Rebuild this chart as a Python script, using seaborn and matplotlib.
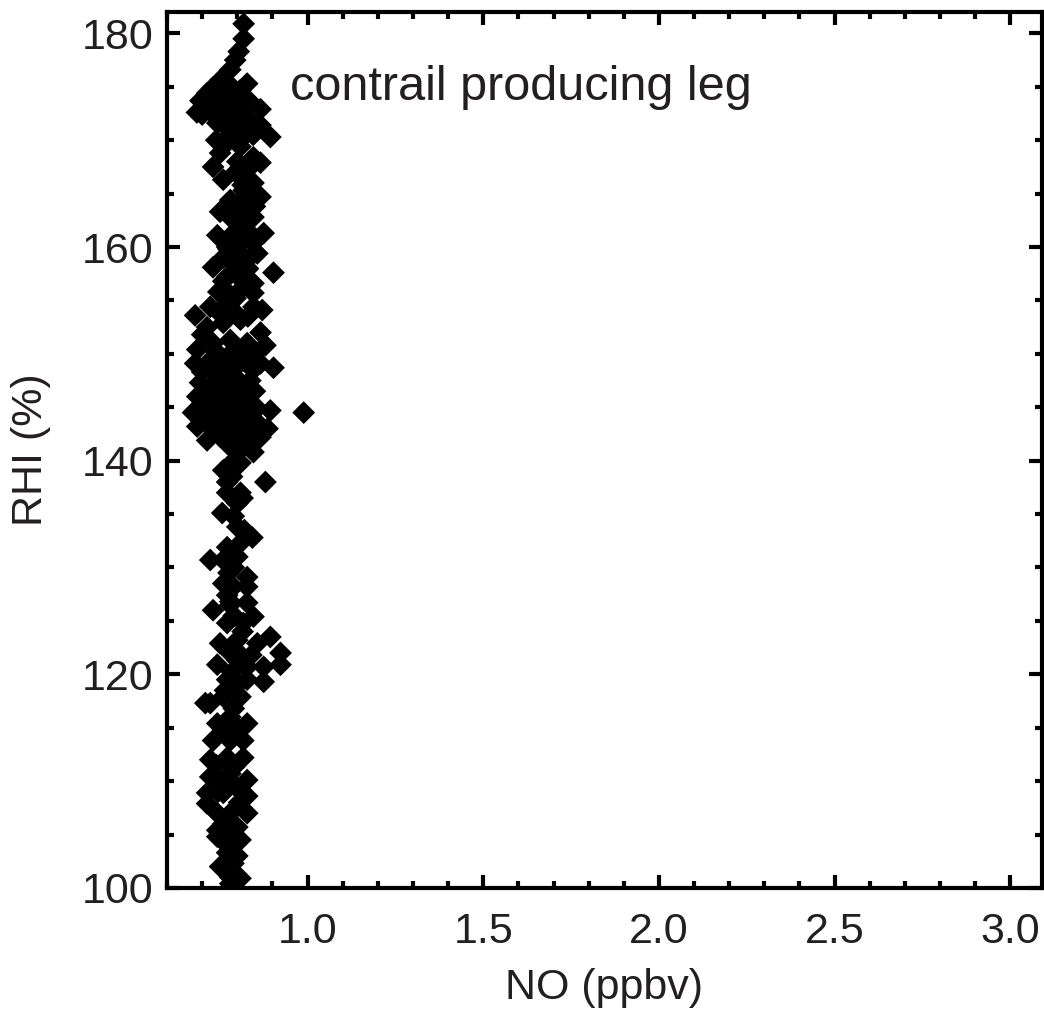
import matplotlib
matplotlib.use("Agg")
import matplotlib.pyplot as plt
import seaborn as sns
from matplotlib.ticker import MultipleLocator

# NO mixing ratio (ppbv) and relative humidity over ice (%)
no_ppbv = [
    # top part, 168-181 %
    0.818, 0.818, 0.804, 0.794, 0.780, 0.751, 0.730, 0.714, 0.709, 0.700,
    0.828, 0.830, 0.794, 0.760, 0.866, 0.743, 0.866, 0.894, 0.817, 0.760,
    0.809, 0.780, 0.731, 0.809, 0.775, 0.745, 0.790, 0.830, 0.720, 0.800,
    0.845, 0.780, 0.740, 0.685, 0.695, 0.765, 0.810, 0.770,
    # 155-169 %
    0.751, 0.731, 0.760, 0.846, 0.866, 0.828, 0.846, 0.818, 0.866, 0.804,
    0.751, 0.846, 0.818, 0.875, 0.743, 0.789, 0.846, 0.771, 0.857, 0.809,
    0.731, 0.789, 0.828, 0.903, 0.771, 0.846, 0.746, 0.809, 0.846, 0.780,
    0.828, 0.800, 0.820, 0.790, 0.800, 0.830, 0.810, 0.780, 0.815, 0.805,
    0.835, 0.775, 0.760, 0.810, 0.830, 0.795, 0.850, 0.825, 0.780, 0.760,
    0.800, 0.830, 0.795,
    # dense part, 141-155 %
    0.680, 0.723, 0.771, 0.846, 0.871, 0.714, 0.760, 0.809, 0.866, 0.686,
    0.731, 0.780, 0.828, 0.880, 0.680, 0.723, 0.771, 0.818, 0.903, 0.866,
    0.694, 0.743, 0.789, 0.837, 0.686, 0.731, 0.780, 0.828, 0.894, 0.989,
    0.674, 0.723, 0.771, 0.817, 0.857, 0.686, 0.731, 0.780, 0.828, 0.886,
    0.714, 0.771, 0.817, 0.866, 0.750, 0.790, 0.830, 0.700, 0.740, 0.790,
    0.850, 0.700, 0.750, 0.800, 0.845, 0.720, 0.760, 0.810, 0.850, 0.700,
    0.745, 0.795, 0.840, 0.710, 0.755, 0.800, 0.850, 0.750, 0.795, 0.840,
    # 127-141 %
    0.800, 0.846, 0.760, 0.809, 0.771, 0.880, 0.771, 0.809, 0.800, 0.757,
    0.800, 0.843, 0.771, 0.809, 0.723, 0.760, 0.800, 0.828, 0.760, 0.789,
    0.828, 0.771, 0.790, 0.785, 0.790, 0.790, 0.820, 0.780, 0.815, 0.775,
    # 113-127 %
    0.731, 0.780, 0.828, 0.846, 0.771, 0.817, 0.894, 0.751, 0.800, 0.857,
    0.923, 0.923, 0.875, 0.743, 0.800, 0.828, 0.875, 0.771, 0.828, 0.723,
    0.760, 0.809, 0.828, 0.743, 0.780, 0.731, 0.780, 0.817, 0.790, 0.780,
    0.800, 0.790, 0.760, 0.800, 0.709, 0.810, 0.765, 0.840, 0.785, 0.815,
    # bottom part, 100-113 %
    0.723, 0.771, 0.817, 0.723, 0.780, 0.828, 0.714, 0.760, 0.828, 0.714,
    0.743, 0.780, 0.828, 0.743, 0.800, 0.743, 0.809, 0.771, 0.751, 0.789,
    0.780, 0.809, 0.780, 0.790, 0.750, 0.795, 0.760, 0.790, 0.765, 0.740,
    0.800, 0.805, 0.745, 0.770,
]
rhi_pct = [
    180.9, 179.5, 178.3, 177.5, 176.6, 175.6, 174.9, 174.4, 173.5, 172.4,
    175.3, 173.8, 173.8, 172.9, 172.9, 171.6, 171.4, 170.3, 170.3, 169.4,
    169.4, 174.4, 173.5, 174.7, 175.3, 173.0, 172.0, 172.0, 172.8, 171.0,
    170.5, 170.5, 170.0, 172.6, 173.7, 174.0, 172.8, 171.2,
    168.8, 167.5, 166.3, 168.4, 167.9, 167.2, 166.0, 165.3, 164.7, 164.1,
    163.3, 162.8, 162.2, 161.3, 161.1, 161.3, 160.4, 160.0, 159.4, 159.4,
    158.1, 158.5, 157.9, 157.6, 157.2, 156.6, 155.8, 156.0, 155.7, 164.4,
    163.7, 168.0, 166.5, 162.5, 160.0, 161.5, 158.0, 155.5, 165.8, 163.0,
    159.0, 159.8, 156.8, 157.0, 165.0, 167.0, 163.8, 161.0, 162.8, 159.0,
    158.8, 158.0, 155.2,
    153.6, 154.4, 154.8, 154.4, 154.1, 152.5, 152.9, 153.2, 152.0, 150.4,
    151.0, 151.3, 151.0, 150.8, 149.1, 149.4, 149.7, 149.4, 148.7, 149.1,
    147.3, 147.9, 148.0, 147.5, 146.0, 146.0, 146.3, 146.1, 144.7, 144.5,
    144.5, 144.5, 144.7, 144.5, 144.9, 143.2, 142.9, 143.2, 143.0, 143.0,
    141.9, 141.6, 141.9, 142.2, 153.8, 154.0, 153.5, 151.8, 150.2, 150.3,
    150.0, 148.3, 148.7, 148.9, 148.5, 146.8, 147.0, 147.0, 146.5, 145.3,
    145.4, 145.5, 145.3, 143.8, 143.8, 143.9, 143.8, 142.3, 142.5, 142.2,
    140.7, 140.8, 139.1, 139.8, 138.0, 138.0, 137.0, 137.0, 136.0, 135.1,
    133.8, 132.8, 131.9, 132.3, 130.7, 130.7, 131.0, 129.1, 128.5, 128.2,
    128.2, 127.4, 140.0, 138.5, 134.8, 130.0, 133.5, 126.8, 136.5, 129.5,
    126.0, 126.5, 126.7, 125.4, 124.8, 124.8, 123.5, 122.9, 123.2, 122.9,
    122.0, 120.9, 120.7, 120.9, 121.3, 120.7, 119.3, 119.5, 119.5, 117.3,
    117.9, 117.9, 115.4, 115.4, 116.0, 113.8, 113.8, 113.8, 125.5, 122.0,
    119.0, 116.8, 114.8, 115.0, 117.3, 121.8, 118.5, 121.8, 120.2, 124.0,
    112.0, 112.2, 112.2, 110.4, 110.7, 110.1, 108.9, 108.9, 108.6, 107.9,
    107.0, 107.0, 107.0, 105.4, 105.7, 104.8, 104.5, 103.3, 102.0, 102.3,
    101.0, 100.9, 100.4, 111.3, 110.0, 109.5, 106.0, 104.0, 104.2, 111.5,
    103.0, 108.0, 109.0, 105.2,
]

x_ticks = [1.0, 1.5, 2.0, 2.5, 3.0]
y_ticks = [100, 120, 140, 160, 180]

sns.set_theme(style="white")
plt.rcParams["font.family"] = ["Liberation Sans", "DejaVu Sans"]
text_color = "#231f20"

fig = plt.figure(figsize=(10.44, 10.19), dpi=100)
ax = fig.add_axes([0.16, 0.1286, 0.838, 0.8596])

sns.scatterplot(x=no_ppbv, y=rhi_pct, marker="D", s=135, color="black",
                edgecolor="none", linewidth=0, ax=ax)

ax.set_xlim(0.6, 3.09)
ax.set_ylim(100, 182)
ax.set_xticks(x_ticks)
ax.set_yticks(y_ticks)
ax.set_xticklabels([f"{v:.1f}" for v in x_ticks])
ax.set_yticklabels([str(v) for v in y_ticks])
ax.xaxis.set_minor_locator(MultipleLocator(0.1))
ax.yaxis.set_minor_locator(MultipleLocator(5))

for sp in ax.spines.values():
    sp.set_linewidth(3)
    sp.set_color("black")

ax.tick_params(which="both", direction="in", top=True, right=True,
               bottom=True, left=True, width=3, color="black")
ax.tick_params(which="major", length=9.5, labelsize=31, pad=10,
               labelcolor=text_color)
ax.tick_params(axis="x", which="major", pad=17)
ax.tick_params(which="minor", length=5)

ax.set_xlabel("NO (ppbv)", fontsize=31, color=text_color, labelpad=12)
ax.set_ylabel("RHI (%)", fontsize=31, color=text_color, labelpad=22)

ax.text(0.951, 174.9, "contrail producing leg", fontsize=35,
        color=text_color, va="center", ha="left")

fig.savefig("out.png", dpi=100)
